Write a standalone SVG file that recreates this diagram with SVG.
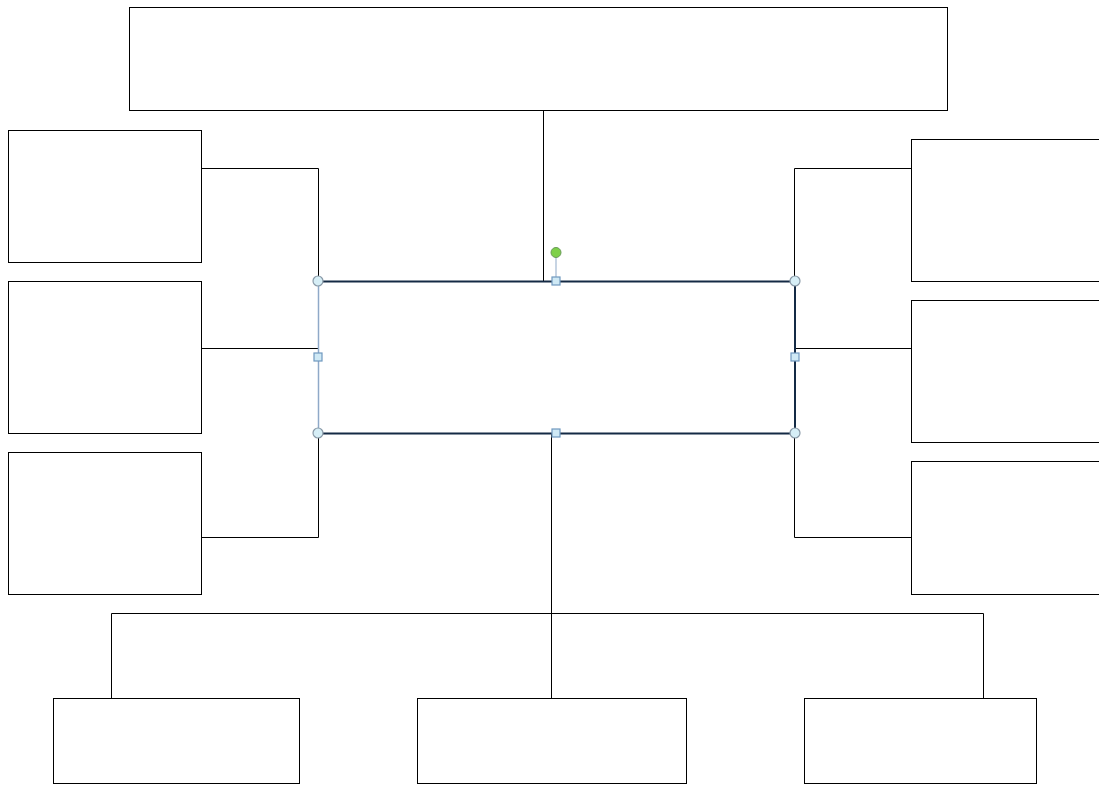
<svg xmlns="http://www.w3.org/2000/svg" width="1099" height="786" viewBox="0 0 1099 786">
<style>
.box{fill:#fff;stroke:#000;stroke-width:1}
.conn{fill:none;stroke:#000;stroke-width:1}
.hc{fill:#d6eef6;stroke:#8a9aa8;stroke-width:1.2}
.hs{fill:#cfe9f5;stroke:#6f98bf;stroke-width:1.2}
</style>
<rect width="1099" height="786" fill="#fff"/>
<g id="connectors">
<path class="conn" d="M543.5,110 V281"/>
<path class="conn" d="M201,168.5 H318.5 V281"/>
<path class="conn" d="M201,348.5 H318"/>
<path class="conn" d="M201,537.5 H318.5 V433"/>
<path class="conn" d="M911,168.5 H794.5 V281"/>
<path class="conn" d="M911,348.5 H795"/>
<path class="conn" d="M911,537.5 H794.5 V433"/>
<path class="conn" d="M551.5,433 V698"/>
<path class="conn" d="M111.5,698 V613.5 H983.5 V698"/>
</g>
<g id="top"><rect class="box" x="129.5" y="7.5" width="818" height="103"/></g>
<g id="left1"><rect class="box" x="8.5" y="130.5" width="193" height="132"/></g>
<g id="left2"><rect class="box" x="8.5" y="281.5" width="193" height="152"/></g>
<g id="left3"><rect class="box" x="8.5" y="452.5" width="193" height="142"/></g>
<g id="right1"><rect class="box" x="911.5" y="139.5" width="200" height="142"/></g>
<g id="right2"><rect class="box" x="911.5" y="300.5" width="200" height="142"/></g>
<g id="right3"><rect class="box" x="911.5" y="461.5" width="200" height="133"/></g>
<g id="bottom1"><rect class="box" x="53.5" y="698.5" width="246" height="85"/></g>
<g id="bottom2"><rect class="box" x="417.5" y="698.5" width="269" height="85"/></g>
<g id="bottom3"><rect class="box" x="804.5" y="698.5" width="232" height="85"/></g>
<g id="center">
<rect x="318" y="281" width="477" height="152" fill="#fff"/>
<line x1="318" y1="281.5" x2="795" y2="281.5" stroke="#142a45" stroke-width="2"/>
<line x1="318" y1="433.5" x2="795" y2="433.5" stroke="#142a45" stroke-width="2"/>
<line x1="318.5" y1="281" x2="318.5" y2="433" stroke="#8fa9c8" stroke-width="1.5"/>
<line x1="795" y1="281" x2="795" y2="433" stroke="#142a45" stroke-width="2"/>
<line x1="556" y1="257" x2="556" y2="278" stroke="#8fa9c8" stroke-width="1"/>
<circle cx="556" cy="252.5" r="5" fill="#7ed04a" stroke="#6a9a5a" stroke-width="1"/>
<circle class="hc" cx="318" cy="281" r="5"/>
<circle class="hc" cx="795" cy="281" r="5"/>
<circle class="hc" cx="318" cy="433" r="5"/>
<circle class="hc" cx="795" cy="433" r="5"/>
<rect class="hs" x="552" y="277" width="8" height="8"/>
<rect class="hs" x="552" y="429" width="8" height="8"/>
<rect class="hs" x="314" y="353" width="8" height="8"/>
<rect class="hs" x="791" y="353" width="8" height="8"/>
</g>
</svg>
